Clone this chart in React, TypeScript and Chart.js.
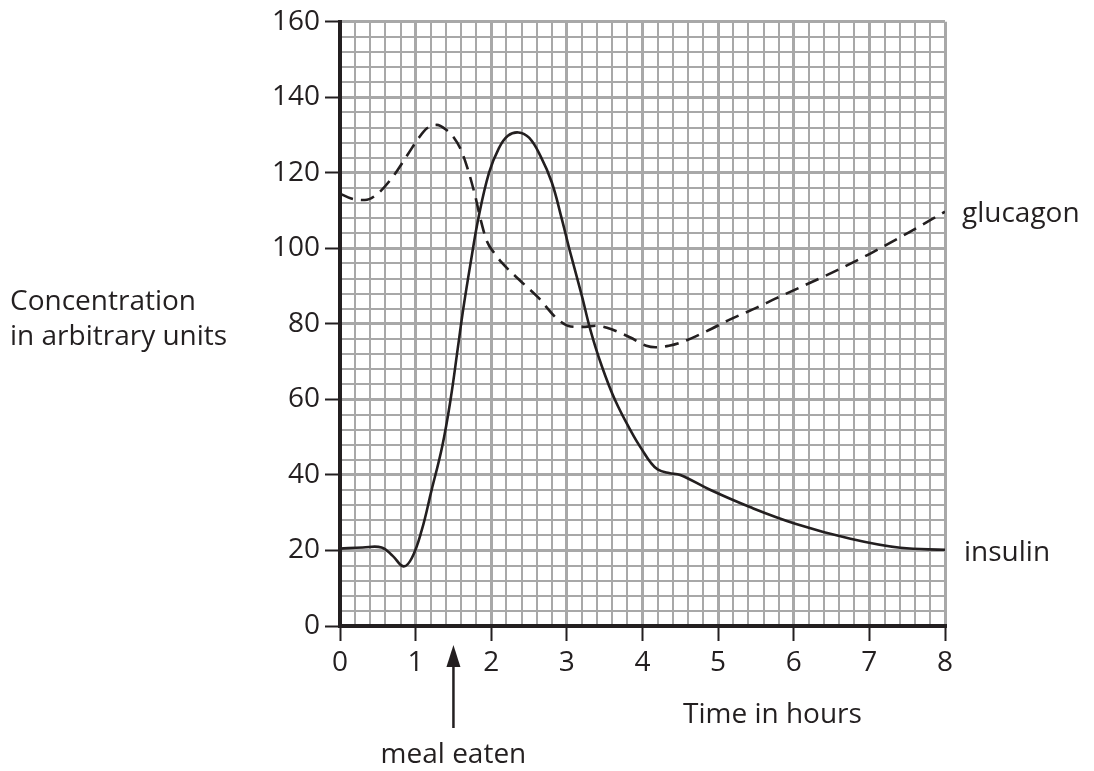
import React, { useEffect, useRef } from "react";
import { Chart, registerables } from "chart.js";

Chart.register(...registerables);

// ---- data ----
const insulinX = [0, 0.3, 0.55, 0.7, 0.84, 0.95, 1.08, 1.21, 1.35, 1.46, 1.56, 1.63, 1.73, 1.83, 1.97, 2.1, 2.22, 2.36, 2.5, 2.65, 2.8, 2.93, 3.05, 3.2, 3.31, 3.45, 3.64, 3.88, 4.0, 4.1, 4.2, 4.35, 4.5, 4.9, 5.42, 6.02, 6.75, 7.41, 8];
const insulinY = [20.5, 20.8, 20.8, 18.5, 15.8, 18, 25.3, 35.9, 47.4, 59.7, 73.9, 84, 96.5, 108, 120, 126.5, 129.8, 130.7, 129.3, 124.5, 117.5, 108, 98.5, 87.3, 78.5, 69.5, 59.7, 50.4, 46.5, 43.5, 41.5, 40.5, 40, 36, 31.5, 27.1, 23.1, 20.7, 20.2];

const glucagonX = [0, 0.15, 0.33, 0.5, 0.7, 0.9, 1.05, 1.15, 1.28, 1.4, 1.5, 1.59, 1.68, 1.79, 1.85, 1.94, 2.05, 2.14, 2.38, 2.62, 2.88, 3.05, 3.2, 3.4, 3.53, 3.84, 4.05, 4.17, 4.35, 4.5, 4.85, 5.16, 5.51, 5.78, 6.5, 7, 7.5, 8];
const glucagonY = [114.5, 113.2, 112.8, 114.5, 119, 125, 129.5, 131.8, 132.7, 131.5, 129.5, 126.5, 121.6, 113.7, 108.4, 102, 98.5, 96.2, 91.5, 87, 81.2, 79.3, 79.2, 79.5, 79, 76.4, 74.2, 73.8, 74.2, 75, 78.1, 81.2, 84.3, 86.9, 93.5, 98.5, 104, 109.7];

const xMin = 0, xMax = 8, xMinorStep = 0.2;
const yMin = 0, yMax = 160, yMinorStep = 4, yMajorStep = 20;
const mealTime = 1.5;

const seriesNames = ["insulin", "glucagon"];
const yAxisTitle = ["Concentration", "in arbitrary units"];
const xAxisTitle = "Time in hours";
const mealLabel = "meal eaten";

const INK = "#231f20";
const GRID = "#a8a8a8";
const FONT = "'Open Sans', sans-serif";
const FS = 28;

const isMajorX = (v: number) => Math.abs(v - Math.round(v)) < 1e-6;
const isMajorY = (v: number) => Math.abs(v / yMajorStep - Math.round(v / yMajorStep)) < 1e-6;

const annotPlugin = {
  id: "annot",
  afterDraw(chart: any) {
    const ctx = chart.ctx;
    const xs = chart.scales.x;
    const ys = chart.scales.y;
    ctx.save();
    ctx.fillStyle = INK;
    ctx.strokeStyle = INK;
    ctx.font = `${FS}px ${FONT}`;
    ctx.textBaseline = "alphabetic";
    // y axis title
    ctx.textAlign = "left";
    ctx.fillText(yAxisTitle[0], 10, 310);
    ctx.fillText(yAxisTitle[1], 10, 345);
    // x axis title
    ctx.fillText(xAxisTitle, 683, 723);
    // series labels at end of lines
    const xr = xs.getPixelForValue(xMax) + 17;
    ctx.fillText(seriesNames[0], xr + 2, ys.getPixelForValue(insulinY[insulinY.length - 1]) + 11);
    ctx.fillText(seriesNames[1], xr, ys.getPixelForValue(glucagonY[glucagonY.length - 1]) + 10);
    // meal arrow
    const mx = xs.getPixelForValue(mealTime);
    ctx.lineWidth = 2.5;
    ctx.beginPath();
    ctx.moveTo(mx, 728);
    ctx.lineTo(mx, 660);
    ctx.stroke();
    ctx.beginPath();
    ctx.moveTo(mx, 645);
    ctx.lineTo(mx - 7, 667);
    ctx.lineTo(mx + 7, 667);
    ctx.closePath();
    ctx.fill();
    ctx.textAlign = "center";
    ctx.fillText(mealLabel, mx, 763);
    ctx.restore();
  },
};

export default function App() {
  const ref = useRef<HTMLCanvasElement | null>(null);
  useEffect(() => {
    if (!ref.current) return;
    const chart = new Chart(ref.current, {
      type: "line",
      data: {
        datasets: [
          {
            label: seriesNames[0],
            data: insulinX.map((x, i) => ({ x, y: insulinY[i] })),
            borderColor: INK,
            borderWidth: 2.6,
            pointRadius: 0,
            tension: 0.4,
            fill: false,
          },
          {
            label: seriesNames[1],
            data: glucagonX.map((x, i) => ({ x, y: glucagonY[i] })),
            borderColor: INK,
            borderWidth: 2.6,
            borderDash: [14, 8],
            pointRadius: 0,
            cubicInterpolationMode: "monotone",
            fill: false,
          },
        ],
      },
      options: {
        responsive: false,
        animation: false,
        events: [],
        layout: { padding: { left: 0, right: 149, top: 21, bottom: 0 } },
        plugins: { legend: { display: false }, tooltip: { enabled: false } },
        scales: {
          x: {
            type: "linear",
            min: xMin,
            max: xMax,
            afterFit: (s: any) => { s.height = 145; },
            border: { display: true, color: INK, width: 4 },
            grid: {
              color: GRID,
              lineWidth: (c: any) => (c.tick && isMajorX(c.tick.value) ? 3 : 2),
              tickColor: (c: any) => (c.tick && isMajorX(c.tick.value) ? INK : "rgba(0,0,0,0)"),
              tickLength: 15,
              tickWidth: 2,
            },
            ticks: {
              stepSize: xMinorStep,
              autoSkip: false,
              maxRotation: 0,
              padding: 5,
              color: INK,
              font: { family: FONT, size: FS },
              callback: (v: any) => (isMajorX(Number(v)) ? String(Math.round(Number(v))) : ""),
            },
          },
          y: {
            type: "linear",
            min: yMin,
            max: yMax,
            afterFit: (s: any) => { s.width = 340; },
            border: { display: true, color: INK, width: 4 },
            grid: {
              color: GRID,
              lineWidth: (c: any) => (c.tick && isMajorY(c.tick.value) ? 3 : 2),
              tickColor: (c: any) => (c.tick && isMajorY(c.tick.value) ? INK : "rgba(0,0,0,0)"),
              tickLength: 15,
              tickWidth: 2,
            },
            ticks: {
              stepSize: yMinorStep,
              autoSkip: false,
              padding: 5,
              color: INK,
              font: { family: FONT, size: FS },
              callback: (v: any) => (isMajorY(Number(v)) ? String(Math.round(Number(v))) : ""),
            },
          },
        },
      },
      plugins: [annotPlugin],
    } as any);
    return () => chart.destroy();
  }, []);
  return (
    <div style={{ position: "fixed", left: 0, top: 0, width: 1094, height: 771, background: "#fff" }}>
      <canvas ref={ref} width={1094} height={771} style={{ width: 1094, height: 771, display: "block" }} />
    </div>
  );
}
